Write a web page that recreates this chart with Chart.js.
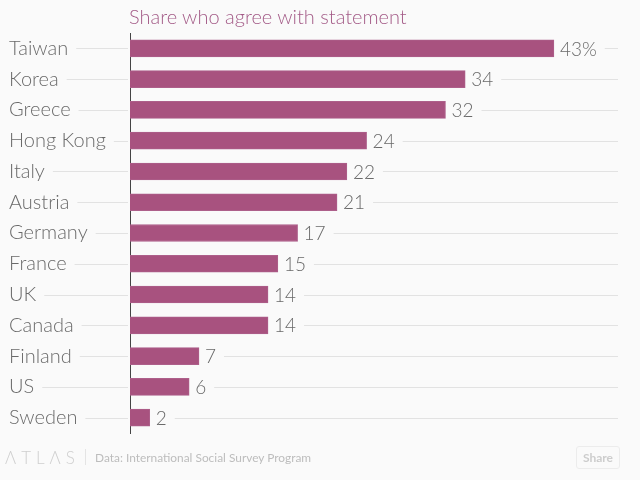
<!DOCTYPE html>
<html>
<head>
<meta charset="utf-8">
<script src="https://cdn.jsdelivr.net/npm/chart.js@4"></script>
<style>
  html, body { margin: 0; padding: 0; background: #fafafa; }
  #wrap { position: relative; width: 640px; height: 480px; overflow: hidden; font-family: Lato, sans-serif; }
  #chart { position: absolute; left: 0; top: 0; }
  #title { position: absolute; left: 129px; top: 4px; font-size: 20px; font-weight: 300; color: #a45c88; }
  #logo { position: absolute; left: 5px; top: 447px; font-size: 17px; font-weight: 300; letter-spacing: 5px; color: #cfcfcf; }
  #sep { position: absolute; left: 85px; top: 449px; width: 1px; height: 16px; background: #e4e4e4; }
  #source { position: absolute; left: 95px; top: 450px; font-size: 11.9px; font-weight: 400; color: #bdbdbd; }
  #share { position: absolute; left: 576px; top: 446px; width: 44px; height: 23px; line-height: 21px; box-sizing: border-box; text-align: center;
           border: 1px solid #ececec; border-radius: 3px; font-size: 12px; font-weight: 700; color: #cdcdcd; }
</style>
</head>
<body>
<div id="wrap">
  <canvas id="chart" width="640" height="480"></canvas>
  <div id="title">Share who agree with statement</div>
  <div id="logo">ΛTLΛS</div>
  <div id="sep"></div>
  <div id="source">Data: International Social Survey Program</div>
  <div id="share">Share</div>
</div>
<script>
const countries = ["Taiwan", "Korea", "Greece", "Hong Kong", "Italy", "Austria", "Germany", "France", "UK", "Canada", "Finland", "US", "Sweden"];
const shares = [43, 34, 32, 24, 22, 21, 17, 15, 14, 14, 7, 6, 2];

const nameFont = "300 20px Lato, sans-serif";
const valueFont = "300 19px Lato, sans-serif";
const textColor = "#6a6a6a";
const valueText = (i) => (i === 0 ? shares[i] + "%" : String(shares[i]));

// lines run between the text and the axis, then from the value to the right edge
const rowLines = {
  id: "rowLines",
  beforeDatasetsDraw(chart) {
    const { ctx, chartArea, scales } = chart;
    ctx.save();
    ctx.strokeStyle = "#e2e2e2";
    ctx.lineWidth = 1;
    countries.forEach((name, i) => {
      const y = Math.round(scales.y.getPixelForTick(i)) + 0.5;
      ctx.font = valueFont;
      const end = scales.x.getPixelForValue(shares[i]) + 6 + ctx.measureText(valueText(i)).width + 8;
      ctx.font = nameFont;
      const start = scales.y.left + ctx.measureText(name).width + 8;
      ctx.beginPath();
      ctx.moveTo(start, y);
      ctx.lineTo(chartArea.left - 2, y);
      ctx.moveTo(end, y);
      ctx.lineTo(chartArea.right, y);
      ctx.stroke();
    });
    ctx.restore();
  },
};

const valueLabels = {
  id: "valueLabels",
  afterDatasetsDraw(chart) {
    const { ctx } = chart;
    ctx.save();
    ctx.font = valueFont;
    ctx.fillStyle = textColor;
    ctx.textAlign = "left";
    ctx.textBaseline = "middle";
    chart.getDatasetMeta(0).data.forEach((bar, i) => {
      ctx.fillText(valueText(i), bar.x + 6, bar.y + 1);
    });
    ctx.restore();
  },
};

new Chart(document.getElementById("chart"), {
  type: "bar",
  data: {
    labels: countries,
    datasets: [
      {
        data: shares,
        backgroundColor: "#a8527f",
        borderColor: "#ad5f8a",
        borderWidth: 1,
        barThickness: 17,
      },
    ],
  },
  options: {
    indexAxis: "y",
    responsive: false,
    animation: false,
    layout: { padding: { left: 9, right: 22, top: 33, bottom: 47 } },
    plugins: { legend: { display: false }, tooltip: { enabled: false } },
    scales: {
      x: { display: false, min: 0, max: 49.5 },
      y: {
        afterFit(scale) {
          scale.width = 121;
        },
        grid: { display: false },
        border: { display: true, color: "#444", width: 1 },
        ticks: {
          crossAlign: "far",
          color: textColor,
          font: { family: "Lato, sans-serif", size: 20, weight: 300 },
        },
      },
    },
  },
  plugins: [rowLines, valueLabels],
});
</script>
</body>
</html>
